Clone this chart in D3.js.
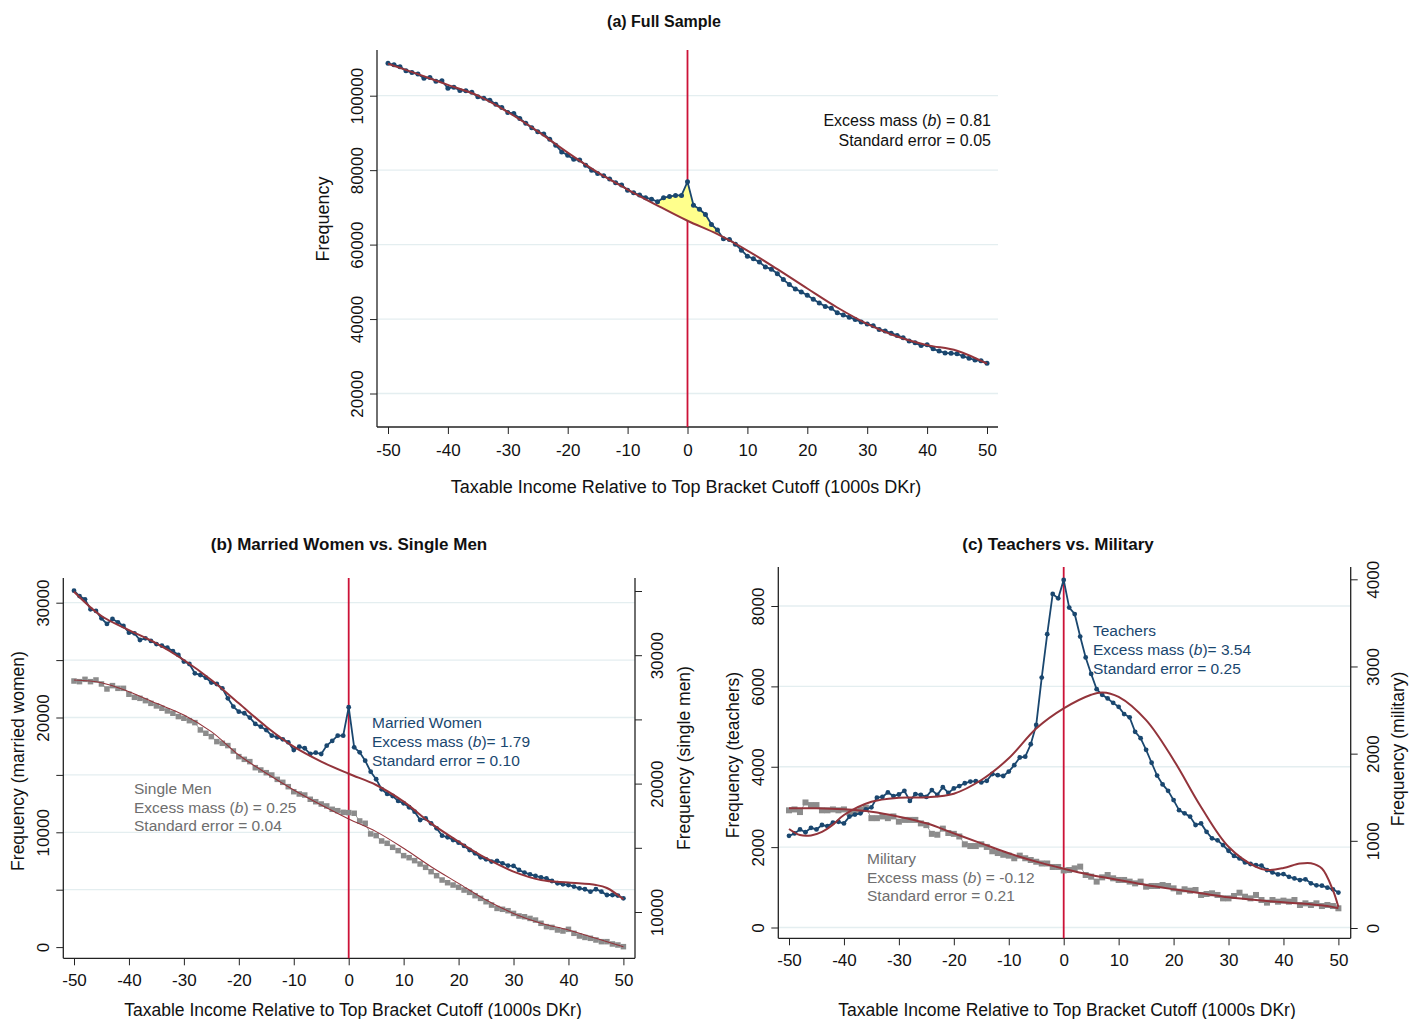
<!DOCTYPE html>
<html>
<head>
<meta charset="utf-8">
<script src="https://d3js.org/d3.v7.min.js"></script>
<style>
	body {margin: 0; background: #fff; }
	svg {display: block; font-family: "Liberation Sans", Arial, sans-serif; }
	.tick text {font-size: 17px; fill: #111; font-family: "Liberation Sans", Arial, sans-serif; }
	.tick line {stroke: #222; }
</style>
</head>
<body>
<svg id="fig" width="1409" height="1019"></svg>
<script>
// income bins, 1000s DKr relative to the top bracket cutoff
const bins = d3.range(-50, 51);
const xTicks = [-50, -40, -30, -20, -10, 0, 10, 20, 30, 40, 50];

// (a) full sample
const fullObs = [
	108700,108300,107800,106700,106200,105800,104700,104900,103900,104000,
	102000,102300,101400,101300,100900,99700,99300,98800,97700,96800,
	95500,95200,93900,92600,91400,90300,89700,88300,86700,84900,
	84000,82900,82700,81300,80000,79100,78500,77600,76600,76000,
	74600,73900,73300,72600,72200,71500,72600,72900,73200,73200,
	76900,
	70600,69500,68100,65400,63900,61600,61400,60100,58500,56900,
	56200,55300,54000,53400,52200,50600,49300,48100,47300,46400,
	45300,44300,43400,42900,41700,41100,40500,39900,39200,38700,
	38200,37200,36800,36200,35600,35000,34100,33600,32900,33100,
	32000,31400,30900,30800,30700,30000,29500,29000,28800,28100];
const fullFitX = [-50,-45,-40,-35,-30,-25,-20,-15,-10,-5,0,5,10,15,20,25,30,35,40,45,50];
const fullFit = [108600,105800,102900,100000,95600,90400,84700,79400,74800,70500,66400,
	62800,58400,53400,48200,43100,38700,35300,33000,31500,28000];
const fullYTicks = [20000, 40000, 60000, 80000, 100000];

// (b) married women (left axis) vs single men (right axis)
const marriedObs = [
	31050,30580,30290,29420,29280,28640,28150,28580,28290,27970,
	27390,27330,26750,26900,26670,26400,26260,26080,25790,25450,
	24870,24660,23850,23700,23470,23040,22920,22540,21670,20950,
	20510,20370,19990,19440,19200,18910,18420,18280,18100,17840,
	17170,17460,17320,16820,16940,16820,17550,17960,18420,18420,
	20900,
	17400,16970,16240,15280,14620,13750,13340,13160,12730,12530,
	12180,11800,11070,11220,10780,10350,9710,9570,9330,9100,
	8810,8460,8170,7820,7650,7450,7500,7300,7100,7070,
	6720,6490,6340,6200,6080,5990,5760,5560,5470,5410,
	5270,5120,5040,4830,5040,4830,4540,4540,4490,4250];
const marriedFitX = [-50,-45,-40,-35,-30,-25,-20,-15,-10,-5,0,5,10,15,20,25,30,35,40,45,47,50];
const marriedFit = [30960,28840,27620,26460,25010,23270,21240,19200,17460,16160,15100,
	14120,12670,10780,9190,7740,6580,5850,5620,5410,5150,4170];
const singleObs = [
	27990,27940,28120,27940,28070,27760,27370,27630,27420,27420,
	26960,26720,26640,26460,26250,26050,25870,25660,25480,25220,
	25090,24900,24750,24180,23920,23660,23270,23140,22960,22540,
	22100,21890,21710,21240,21060,20850,20670,20330,20100,19760,
	19370,19190,19110,18780,18590,18410,18260,18000,17890,17760,
	17740,
	17690,17090,16910,16080,15950,15530,15350,15040,14780,14390,
	14230,14000,13740,13480,13140,12830,12490,12280,12100,11920,
	11710,11530,11270,11060,10800,10540,10280,10210,10100,9890,
	9690,9630,9500,9370,9120,8860,8800,8600,8520,8650,
	8340,8130,8020,7950,7820,7690,7690,7510,7430,7300];
const singleFitX = [-50,-45,-40,-35,-30,-25,-20,-15,-10,-5,0,5,10,15,20,25,30,35,40,45,50];
const singleFit = [28070,27860,27160,26250,25350,24050,22230,20800,19500,18330,17250,
	16260,14960,13530,12230,10930,9890,9120,8600,7950,7300];
const marriedTicks = [0, 5000, 10000, 15000, 20000, 25000, 30000];
const singleTicks = [10000, 15000, 20000, 25000, 30000, 35000];

// (c) teachers (left axis) vs military (right axis)
const teachObs = [
	2280,2340,2440,2370,2480,2440,2550,2520,2610,2630,
	2590,2760,2810,2840,2940,2990,3230,3250,3360,3270,
	3310,3400,3150,3320,3300,3250,3420,3300,3490,3350,
	3460,3520,3590,3630,3640,3610,3650,3820,3790,3770,
	3880,4040,4230,4250,4560,5040,6220,7300,8300,8190,
	8650,
	7960,7800,7240,6720,6310,5930,5790,5700,5590,5490,
	5310,5230,4870,4710,4420,4100,3780,3560,3400,3170,
	2920,2840,2760,2550,2590,2380,2220,2170,2050,1910,
	1780,1720,1620,1580,1550,1540,1430,1370,1320,1330,
	1260,1220,1180,1200,1100,1050,1040,990,950,870];
const teachFitX = [-50,-48,-46,-44,-42,-40,-35,-30,-25,-20,-15,-10,-5,0,5,7,10,15,20,25,30,35,37,40,43,45,47,49,50];
const teachFit = [2450,2300,2290,2380,2560,2800,3130,3230,3240,3330,3670,4210,4950,5450,
	5790,5850,5740,5160,4170,3000,2010,1510,1430,1480,1590,1600,1470,930,510];
const milObs = [
	1350,1360,1330,1440,1410,1410,1350,1350,1360,1350,
	1360,1320,1330,1360,1380,1260,1260,1280,1260,1280,
	1220,1240,1240,1240,1200,1180,1080,1070,1140,1090,
	1080,1050,960,940,940,960,930,880,860,840,
	830,800,830,800,780,760,740,740,700,700,
	660,
	665,684,704,608,589,532,581,608,570,551,
	551,532,512,532,474,482,482,493,482,455,
	417,444,428,436,379,390,398,379,340,340,
	367,405,359,340,379,321,291,321,302,314,
	302,321,264,283,264,283,252,264,252,226];
const milFitX = [-50,-45,-40,-35,-30,-25,-20,-15,-10,-5,0,5,10,15,20,25,30,35,40,45,48,50];
const milFit = [1373,1373,1361,1334,1277,1201,1086,971,857,761,680,608,551,493,444,398,352,321,294,272,252,226];
const teachTicks = [0, 2000, 4000, 6000, 8000];
const milTicks = [0, 1000, 2000, 3000, 4000];

const xTitle = "Taxable Income Relative to Top Bracket Cutoff (1000s DKr)";

const navy = "#1a476f", maroon = "#93343b", cutRed = "#cc1237", grey = "#8c8c8c", gridCol = "#e4eef0";
const svg = d3.select("#fig");

// frame, gridlines, axes and titles of one panel
function makePanel(p) {
	const g = svg.append("g");
	const x = d3.scaleLinear().domain([-50, 50]).range(p.xRange);
	const yL = d3.scaleLinear().domain(p.yLDomain).range(p.yLRange);
	const yR = p.yRDomain ? d3.scaleLinear().domain(p.yRDomain).range(p.yRRange) : null;

	g.selectAll(".grid").data(p.grid).join("line")
		.attr("x1", p.left).attr("x2", p.right)
		.attr("y1", d => yL(d)).attr("y2", d => yL(d))
		.attr("stroke", gridCol).attr("stroke-width", 1.3);

	const xa = g.append("g").attr("transform", `translate(0,${p.bottom})`)
		.call(d3.axisBottom(x).tickValues(xTicks).tickSize(7).tickFormat(d => String(d)));
	xa.select(".domain").remove();
	xa.selectAll(".tick text").attr("y", p.xLabelDy).attr("dy", 0);

	const ya = g.append("g").attr("transform", `translate(${p.left},0)`)
		.call(d3.axisLeft(yL).tickValues(p.yLTicks).tickSize(7)
			.tickFormat(d => p.yLLabels.includes(d) ? String(d) : ""));
	ya.select(".domain").remove();
	ya.selectAll(".tick text")
		.attr("transform", "rotate(-90)")
		.attr("x", 0).attr("y", -14).attr("dy", 0)
		.attr("text-anchor", "middle");

	if (yR) {
		const yra = g.append("g").attr("transform", `translate(${p.right},0)`)
			.call(d3.axisRight(yR).tickValues(p.yRTicks).tickSize(7)
				.tickFormat(d => p.yRLabels.includes(d) ? String(d) : ""));
		yra.select(".domain").remove();
		yra.selectAll(".tick text")
			.attr("transform", "rotate(-90)")
			.attr("x", 0).attr("y", 28).attr("dy", 0)
			.attr("text-anchor", "middle");
		g.append("line").attr("x1", p.right).attr("x2", p.right)
			.attr("y1", p.top).attr("y2", p.bottom).attr("stroke", "#222").attr("stroke-width", 1.3);
	}

	g.append("line").attr("x1", p.left).attr("x2", p.left)
		.attr("y1", p.top).attr("y2", p.bottom).attr("stroke", "#222").attr("stroke-width", 1.3);
	g.append("line").attr("x1", p.left).attr("x2", p.right)
		.attr("y1", p.bottom).attr("y2", p.bottom).attr("stroke", "#222").attr("stroke-width", 1.3);

	svg.append("text").attr("x", p.titleX).attr("y", p.titleY)
		.attr("text-anchor", "middle").attr("font-weight", "bold")
		.attr("font-size", p.titleSize).attr("fill", "#111").text(p.title);
	svg.append("text").attr("x", p.xTitleX).attr("y", p.xTitleY)
		.attr("text-anchor", "middle").attr("font-size", p.axisTitleSize).attr("fill", "#111").text(xTitle);
	svg.append("text").attr("transform", `translate(${p.yTitleL[0]},${p.yTitleL[1]}) rotate(-90)`)
		.attr("text-anchor", "middle").attr("font-size", p.axisTitleSize).attr("fill", "#111").text(p.yTitleL[2]);
	if (p.yTitleR) {
		svg.append("text").attr("transform", `translate(${p.yTitleR[0]},${p.yTitleR[1]}) rotate(-90)`)
			.attr("text-anchor", "middle").attr("font-size", p.axisTitleSize).attr("fill", "#111").text(p.yTitleR[2]);
	}

	// bracket cutoff
	g.append("line").attr("x1", x(0)).attr("x2", x(0))
		.attr("y1", p.top).attr("y2", p.bottom).attr("stroke", cutRed).attr("stroke-width", 1.8);

	return {g, x, yL, yR};
}

function dotSeries(g, x, y, vals, r) {
	g.append("path").datum(vals)
		.attr("fill", "none").attr("stroke", navy).attr("stroke-width", 1.8)
		.attr("d", d3.line().x((d, i) => x(bins[i])).y(d => y(d)));
	g.selectAll(null).data(vals).join("circle")
		.attr("cx", (d, i) => x(bins[i])).attr("cy", d => y(d))
		.attr("r", r).attr("fill", navy);
}

function squareSeries(g, x, y, vals, s) {
	g.append("path").datum(vals)
		.attr("fill", "none").attr("stroke", "#9a9a9a").attr("stroke-width", 1)
		.attr("d", d3.line().x((d, i) => x(bins[i])).y(d => y(d)));
	g.selectAll(null).data(vals).join("rect")
		.attr("x", (d, i) => x(bins[i]) - s / 2).attr("y", d => y(d) - s / 2)
		.attr("width", s).attr("height", s).attr("fill", grey);
}

function fitLine(g, x, y, xs, vals, w) {
	g.append("path").datum(vals)
		.attr("fill", "none").attr("stroke", maroon).attr("stroke-width", w)
		.attr("d", d3.line().x((d, i) => x(xs[i])).y(d => y(d)).curve(d3.curveCatmullRom.alpha(0.5)));
}

function note(xPos, yPos, lines, color, size, gap, anchor) {
	const t = svg.append("text").attr("x", xPos).attr("y", yPos)
		.attr("fill", color).attr("font-size", size).attr("text-anchor", anchor || "start");
	lines.forEach((line, i) => {
		const parts = line.split("(b)");
		t.append("tspan").attr("x", xPos).attr("dy", i ? gap : 0).text(parts[0]);
		if (parts.length > 1) {
			t.append("tspan").text("(");
			t.append("tspan").attr("font-style", "italic").text("b");
			t.append("tspan").text(")" + parts[1]);
		}
	});
}

// ---- (a) Full Sample ----
const pa = makePanel({
	left: 377, right: 998, top: 50, bottom: 427,
	xRange: [388, 987], xLabelDy: 29,
	yLDomain: [20000, 100000], yLRange: [393.5, 95.7],
	yLTicks: fullYTicks, yLLabels: fullYTicks, grid: fullYTicks,
	title: "(a) Full Sample", titleX: 664, titleY: 27, titleSize: "16px",
	xTitleX: 686, xTitleY: 493, axisTitleSize: "18px",
	yTitleL: [329, 219, "Frequency"]
});

// excess mass shading: observed area clipped to the region above the fit
pa.g.append("clipPath").attr("id", "aboveFit").append("path")
	.datum(fullFit)
	.attr("d", d3.area().x((d, i) => pa.x(fullFitX[i])).y0(50).y1(d => pa.yL(d))
		.curve(d3.curveCatmullRom.alpha(0.5)));
const shadeIdx = bins.map((b, i) => i).filter(i => bins[i] >= -5 && bins[i] <= 6);
pa.g.append("path").datum(shadeIdx)
	.attr("clip-path", "url(#aboveFit)")
	.attr("fill", "#ffff8c")
	.attr("d", d3.area().x(i => pa.x(bins[i])).y0(427).y1(i => pa.yL(fullObs[i])));
dotSeries(pa.g, pa.x, pa.yL, fullObs, 2.5);
fitLine(pa.g, pa.x, pa.yL, fullFitX, fullFit, 2);
note(991, 126, ["Excess mass (b) = 0.81", "Standard error = 0.05"], "#111", "16px", 20, "end");

// ---- (b) Married Women vs. Single Men ----
const pb = makePanel({
	left: 63.3, right: 635, top: 578, bottom: 958.3,
	xRange: [74, 623.4], xLabelDy: 28,
	yLDomain: [10000, 30000], yLRange: [832.3, 602.7],
	yLTicks: marriedTicks, yLLabels: [0, 10000, 20000, 30000],
	grid: [5000, 10000, 15000, 20000, 25000, 30000],
	yRDomain: [10000, 30000], yRRange: [912, 655.2],
	yRTicks: singleTicks, yRLabels: [10000, 20000, 30000],
	title: "(b) Married Women vs. Single Men", titleX: 349, titleY: 550, titleSize: "17px",
	xTitleX: 353, xTitleY: 1016, axisTitleSize: "17.5px",
	yTitleL: [24, 761, "Frequency (married women)"],
	yTitleR: [690, 758, "Frequency (single men)"]
});
squareSeries(pb.g, pb.x, pb.yR, singleObs, 5.5);
dotSeries(pb.g, pb.x, pb.yL, marriedObs, 2.4);
fitLine(pb.g, pb.x, pb.yR, singleFitX, singleFit, 1.1);
fitLine(pb.g, pb.x, pb.yL, marriedFitX, marriedFit, 2);
note(372, 728, ["Married Women", "Excess mass (b)= 1.79", "Standard error = 0.10"], navy, "15.5px", 19);
note(134, 794, ["Single Men", "Excess mass (b) = 0.25", "Standard error = 0.04"], "#6e6e6e", "15.5px", 18.5);

// ---- (c) Teachers vs. Military ----
const pc = makePanel({
	left: 778.3, right: 1350.7, top: 567, bottom: 938.3,
	xRange: [789, 1338.4], xLabelDy: 28,
	yLDomain: [0, 8000], yLRange: [927.5, 606],
	yLTicks: teachTicks, yLLabels: teachTicks, grid: teachTicks,
	yRDomain: [0, 4000], yRRange: [928, 579.3],
	yRTicks: milTicks, yRLabels: milTicks,
	title: "(c) Teachers vs. Military", titleX: 1058, titleY: 550, titleSize: "17px",
	xTitleX: 1067, xTitleY: 1016, axisTitleSize: "17.5px",
	yTitleL: [739, 755, "Frequency (teachers)"],
	yTitleR: [1404, 749, "Frequency (military)"]
});
squareSeries(pc.g, pc.x, pc.yR, milObs, 6);
dotSeries(pc.g, pc.x, pc.yL, teachObs, 2.4);
fitLine(pc.g, pc.x, pc.yR, milFitX, milFit, 2);
fitLine(pc.g, pc.x, pc.yL, teachFitX, teachFit, 2);
note(1093, 636, ["Teachers", "Excess mass (b)= 3.54", "Standard error = 0.25"], navy, "15.5px", 19);
note(867, 864, ["Military", "Excess mass (b) = -0.12", "Standard error = 0.21"], "#6e6e6e", "15.5px", 18.5);
</script>
</body>
</html>
